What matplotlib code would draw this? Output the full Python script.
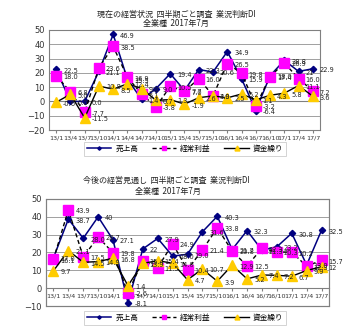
import matplotlib
matplotlib.use("Agg")
import matplotlib.pyplot as plt
import numpy as np

plt.rcParams['font.family'] = ['Noto Sans CJK JP', 'DejaVu Sans']

quarters = ["13/1", "13/4", "13/7", "13/10", "14/1", "14/4", "14/7", "14/10", "15/1", "15/4",
            "15/7", "15/10", "16/1", "16/4", "16/7", "16/10", "17/1", "17/4", "17/7"]
series_names = ["売上高", "経常利益", "資金繰り"]

# Top chart: current business condition DI
cur_sales = [22.5, 0.0, 0.0, 21.1, 46.9, 15.5, 1.4, 9.0, 19.4, 7.7, 22.3, 20.6, 34.9, 15.9, -6.4, 18.0, 28.8, 21.0, 22.9]
cur_profit = [18.0, 6.8, -7.7, 23.6, 38.5, 16.9, 5.1, -3.8, 10.5, 7.0, 16.0, 4.0, 26.5, 19.8, -3.2, 17.4, 26.9, 16.0, 7.2]
cur_cash = [-0.6, 5.0, -11.5, 10.8, 8.5, 12.4, 9.0, 0.7, 1.3, -1.9, 2.6, 3.9, 2.5, 5.2, 1.1, 4.3, 5.8, 11.1, 3.6]

# Bottom chart: outlook DI
fut_sales = [17.0, 38.7, 28.0, 40.0, 27.1, -8.1, 22.0, 27.9, 18.0, 19.0, 31.6, 40.3, 21.7, 32.3, 21.3, 23.2, 30.8, 13.0, 32.5]
fut_profit = [16.1, 43.9, 17.5, 28.7, 19.8, -2.6, 15.4, 11.5, 24.9, 10.4, 21.4, 33.8, 20.8, 12.5, 22.3, 20.3, 20.2, 12.3, 15.7]
fut_cash = [9.7, 21.1, 14.5, 14.9, 16.8, 1.4, 13.9, 15.4, 14.0, 4.7, 10.7, 3.9, 12.9, 5.2, 7.4, 7.2, 6.7, 9.9, 12.0]

titles_top = ["現在の経営状況  四半期ごと調査  業況判断DI", "全業種  2017年7月"]
titles_bot = ["今後の経営見通し  四半期ごと調査  業況判断DI", "全業種  2017年7月"]

W, H = 351, 336
fig = plt.figure(figsize=(W / 100, H / 100), dpi=100)
fig.patch.set_facecolor('white')

NAVY = '#000080'
PINK = '#FF00FF'
YEL = '#FFCC00'
INT_LABELS = {21.0, 22.0, 40.0, 12.0}

def fmt(v):
    if v in INT_LABELS:
        return f"{int(v)}"
    return f"{v:.1f}"

def style_xticks(ax):
    x = np.arange(len(quarters))
    ax.set_xticks(x)
    ax.set_xticklabels(quarters, fontsize=4.6, color='#333333', family='DejaVu Sans')
    ax.tick_params(axis='x', length=2, color='#808080', pad=2)

def draw(ax, sales, profit, cash, ylim, yticks):
    x = np.arange(len(quarters))
    ax.plot(x, sales, color=NAVY, lw=1.1, marker='D', ms=3.2, mfc=NAVY, mec=NAVY, zorder=3, label=series_names[0])
    ax.plot(x, profit, color='black', lw=1.0, ls=(0, (3, 2)), marker='s', ms=6.5, mfc=PINK, mec=PINK, zorder=4, label=series_names[1])
    ax.plot(x, cash, color='black', lw=1.0, marker='^', ms=6.5, mfc=YEL, mec=YEL, zorder=5, label=series_names[2])
    for arr in (sales, profit, cash):
        for i, v in enumerate(arr):
            ax.annotate(fmt(v), (x[i], v), xytext=(5, -1), textcoords='offset points',
                        fontsize=4.8, color='#222222', va='center', ha='left', zorder=6,
                        family='DejaVu Sans')
    ax.set_xlim(-0.5, len(quarters) - 0.5)
    ax.set_ylim(*ylim)
    ax.set_yticks(yticks)
    ax.yaxis.grid(True, color='#a0a0a0', lw=0.7)
    ax.set_axisbelow(True)
    for s in ax.spines.values():
        s.set_color('#808080')
        s.set_linewidth(0.8)
    ax.tick_params(axis='y', labelsize=6, length=0, pad=3, labelcolor='#333333')
    for t in ax.get_yticklabels():
        t.set_family('DejaVu Sans')

# Top chart
ax1 = fig.add_axes([49 / W, 1 - 130 / H, (320 - 49) / W, 100 / H])
draw(ax1, cur_sales, cur_profit, cur_cash, (-20, 50), np.arange(-20, 51, 10))
style_xticks(ax1)
ax1.axhline(0, color='#808080', lw=0.8, zorder=1)

# Bottom chart
ax2 = fig.add_axes([46 / W, 1 - 306 / H, (329 - 46) / W, 107 / H])
draw(ax2, fut_sales, fut_profit, fut_cash, (-10, 50), np.arange(-10, 51, 10))
ax2.spines['bottom'].set_position(('data', 0))
style_xticks(ax2)
ax2.patch.set_edgecolor('#808080')
ax2.patch.set_linewidth(0.8)
ax2.plot([0, 1], [0, 0], transform=ax2.transAxes, color='#808080', lw=0.8, clip_on=False)

# Titles
fig.text(176 / W, 1 - 14 / H, titles_top[0], ha='center', va='center', fontsize=5.8, color='#222222')
fig.text(176 / W, 1 - 23 / H, titles_top[1], ha='center', va='center', fontsize=5.8, color='#222222')
fig.text(166 / W, 1 - 180 / H, titles_bot[0], ha='center', va='center', fontsize=5.8, color='#222222')
fig.text(168 / W, 1 - 191 / H, titles_bot[1], ha='center', va='center', fontsize=5.8, color='#222222')

# Legends
for ax, yc in ((ax1, 149), (ax2, 318)):
    h, l = ax.get_legend_handles_labels()
    leg = fig.legend(h, l, loc='center', bbox_to_anchor=(185 / W, 1 - yc / H), ncol=3,
                     fontsize=5.5, frameon=True, fancybox=False, edgecolor='#c0c0c0',
                     handlelength=3.2, columnspacing=1.8, borderpad=0.4, handletextpad=0.5,
                     markerscale=0.55)
    leg.get_frame().set_linewidth(0.6)

fig.savefig('out.png', dpi=100, facecolor='white')
